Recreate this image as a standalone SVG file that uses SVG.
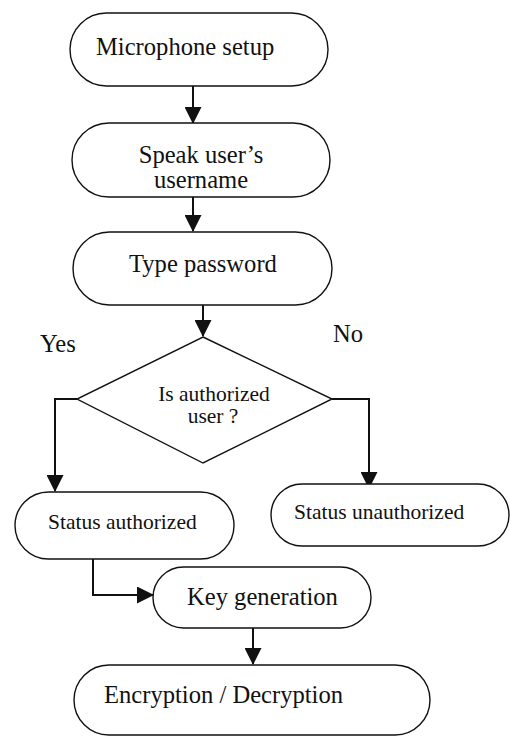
<svg xmlns="http://www.w3.org/2000/svg" width="510" height="736" viewBox="0 0 510 736">
<style>
.box{fill:#fff;stroke:#111;stroke-width:1.4}
.t{font-family:"Liberation Serif","Times New Roman",serif;font-size:24.6px;fill:#111}
.s{font-family:"Liberation Serif","Times New Roman",serif;font-size:21.5px;fill:#111}
.c{fill:none;stroke:#111;stroke-width:2}
</style>
<defs>
<marker id="ah" markerUnits="userSpaceOnUse" markerWidth="17" markerHeight="17" refX="16" refY="8.5" orient="auto">
<path d="M0,0 L17,8.5 L0,17 z" fill="#111"/>
</marker>
</defs>
<rect width="510" height="736" fill="#fff"/>
<g id="connectors">
<path class="c" d="M193,86 V123" marker-end="url(#ah)"/>
<path class="c" d="M193,197 V231" marker-end="url(#ah)"/>
<path class="c" d="M203,305 V336" marker-end="url(#ah)"/>
<path class="c" d="M77,399 H55 V491" marker-end="url(#ah)"/>
<path class="c" d="M332,399 H369 V488" marker-end="url(#ah)"/>
<path class="c" d="M93,559 V595 H153" marker-end="url(#ah)"/>
<path class="c" d="M253,628 V664" marker-end="url(#ah)"/>
</g>
<g id="microphone">
<rect class="box" x="70" y="13" width="258" height="73" rx="36.5"/>
<text class="t" x="96" y="55">Microphone setup</text>
</g>
<g id="speak">
<rect class="box" x="72" y="123" width="258" height="74" rx="37"/>
<text class="t" x="201" y="163" text-anchor="middle">Speak user’s</text>
<text class="t" x="201" y="188" text-anchor="middle">username</text>
</g>
<g id="password">
<rect class="box" x="73" y="232" width="259" height="73" rx="36.5"/>
<text class="t" x="129" y="272">Type password</text>
</g>
<g id="decision">
<polygon class="box" points="203,337 332,399 203,463 77,399"/>
<text class="s" x="214" y="401" text-anchor="middle">Is authorized</text>
<text class="s" x="213" y="423" text-anchor="middle">user ?</text>
</g>
<text class="t" x="40" y="352">Yes</text>
<text class="t" x="333" y="342">No</text>
<g id="authorized">
<rect class="box" x="15" y="492" width="219" height="67" rx="33.5"/>
<text class="s" x="48" y="529">Status authorized</text>
</g>
<g id="unauthorized">
<rect class="box" x="271" y="484" width="238" height="62" rx="31"/>
<text class="s" x="294" y="519">Status unauthorized</text>
</g>
<g id="keygen">
<rect class="box" x="153" y="567" width="218" height="61" rx="30.5"/>
<text class="t" x="187" y="605">Key generation</text>
</g>
<g id="encryption">
<rect class="box" x="74" y="665" width="356" height="70" rx="35"/>
<text class="t" x="104" y="703">Encryption / Decryption</text>
</g>
</svg>
